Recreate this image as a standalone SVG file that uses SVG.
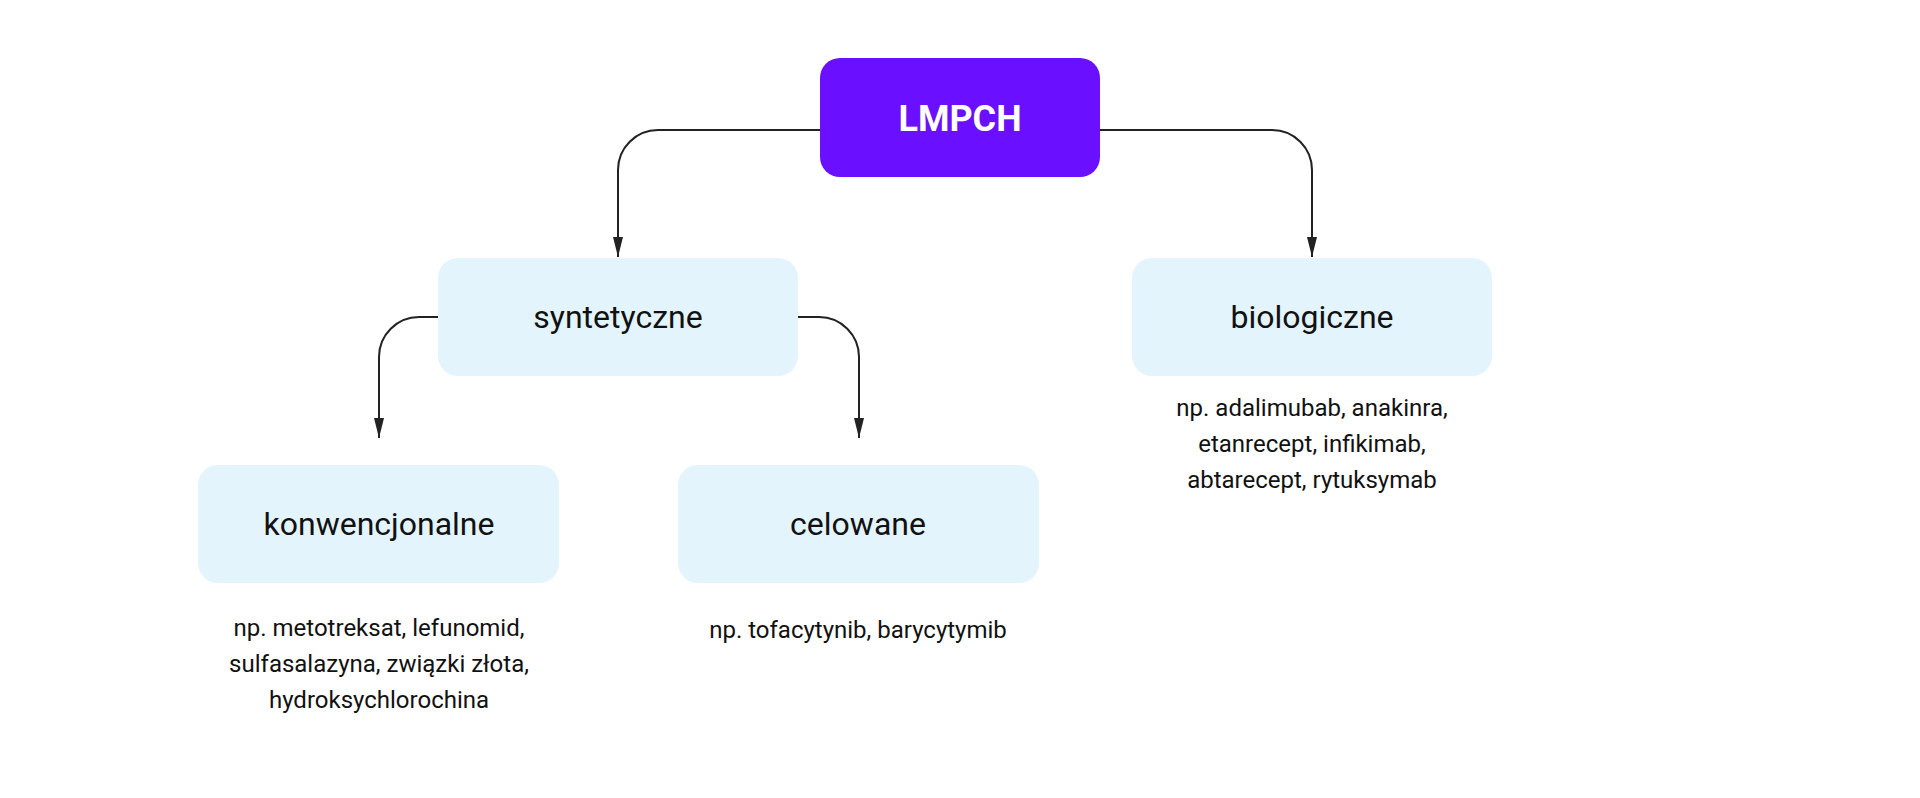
<svg xmlns="http://www.w3.org/2000/svg" width="1920" height="798" viewBox="0 0 1920 798">
<defs>
<style>
.main{fill:#6a0fff}
.sub{fill:#e3f4fd}
.t{font-family:Roboto,"Liberation Sans",sans-serif;fill:#111;text-anchor:middle}
.lbl{font-size:32px}
.desc{font-size:24px}
.head{font-size:36px;font-weight:bold;fill:#fff}
.conn{fill:none;stroke:#222;stroke-width:2}
</style>
<marker id="arr" markerUnits="userSpaceOnUse" markerWidth="20" markerHeight="10" refX="20" refY="5" orient="auto">
<path d="M0,0 L20,5 L0,10 z" fill="#222"/>
</marker>
</defs>
<rect width="1920" height="798" fill="#fff"/>
<g id="connectors">
<path class="conn" marker-end="url(#arr)" d="M820,130 H658 A40,40 0 0 0 618,170 V257"/>
<path class="conn" marker-end="url(#arr)" d="M1100,130 H1272 A40,40 0 0 1 1312,170 V257"/>
<path class="conn" marker-end="url(#arr)" d="M438,317 H419 A40,40 0 0 0 379,357 V438"/>
<path class="conn" marker-end="url(#arr)" d="M798,317 H819 A40,40 0 0 1 859,357 V438"/>
</g>
<g id="lmpch">
<rect class="main" x="820" y="58" width="280" height="119" rx="20"/>
<text class="t head" x="960" y="131">LMPCH</text>
</g>
<g id="syntetyczne">
<rect class="sub" x="438" y="258" width="360" height="118" rx="20"/>
<text class="t lbl" x="618" y="328">syntetyczne</text>
</g>
<g id="biologiczne">
<rect class="sub" x="1132" y="258" width="360" height="118" rx="20"/>
<text class="t lbl" x="1312" y="328">biologiczne</text>
<text class="t desc" x="1312" y="416">np. adalimubab, anakinra,</text>
<text class="t desc" x="1312" y="452">etanrecept, infikimab,</text>
<text class="t desc" x="1312" y="488">abtarecept, rytuksymab</text>
</g>
<g id="konwencjonalne">
<rect class="sub" x="198" y="465" width="361" height="118" rx="20"/>
<text class="t lbl" x="379" y="535">konwencjonalne</text>
<text class="t desc" x="379" y="636">np. metotreksat, lefunomid,</text>
<text class="t desc" x="379" y="672">sulfasalazyna, związki złota,</text>
<text class="t desc" x="379" y="708">hydroksychlorochina</text>
</g>
<g id="celowane">
<rect class="sub" x="678" y="465" width="361" height="118" rx="20"/>
<text class="t lbl" x="858" y="535">celowane</text>
<text class="t desc" x="858" y="638">np. tofacytynib, barycytymib</text>
</g>
</svg>
